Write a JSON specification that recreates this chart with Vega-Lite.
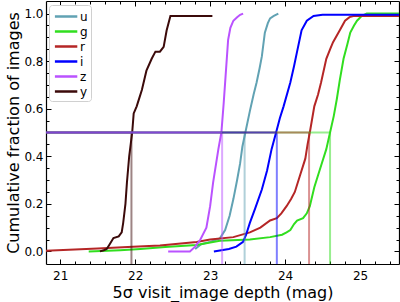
{
  "$schema": "https://vega.github.io/schema/vega-lite/v6.json",
  "width": 353,
  "height": 263,
  "autosize": "none",
  "padding": {"left": 46, "top": 1, "right": 1, "bottom": 38},
  "background": "white",
  "config": {
    "view": {"stroke": null},
    "font": "DejaVu Sans",
    "axis": {
      "labelFont": "DejaVu Sans",
      "labelFontSize": 12,
      "labelColor": "black",
      "titleFont": "DejaVu Sans",
      "titleFontSize": 16,
      "titleFontWeight": "normal",
      "titleColor": "black",
      "domainColor": "black",
      "domainWidth": 1.2,
      "tickColor": "black",
      "tickWidth": 1,
      "grid": false
    },
    "legend": {
      "labelFont": "DejaVu Sans",
      "labelFontSize": 12,
      "labelColor": "black"
    }
  },
  "datasets": {
    "curves": [
      {"band": "u", "mag": 22.8, "frac": 0.01},
      {"band": "u", "mag": 22.88, "frac": 0.03},
      {"band": "u", "mag": 23.0, "frac": 0.04},
      {"band": "u", "mag": 23.13, "frac": 0.055},
      {"band": "u", "mag": 23.2, "frac": 0.09},
      {"band": "u", "mag": 23.26, "frac": 0.15},
      {"band": "u", "mag": 23.31, "frac": 0.22},
      {"band": "u", "mag": 23.36, "frac": 0.3},
      {"band": "u", "mag": 23.4, "frac": 0.37},
      {"band": "u", "mag": 23.43, "frac": 0.44},
      {"band": "u", "mag": 23.47, "frac": 0.5},
      {"band": "u", "mag": 23.53, "frac": 0.59},
      {"band": "u", "mag": 23.58, "frac": 0.66},
      {"band": "u", "mag": 23.62, "frac": 0.71},
      {"band": "u", "mag": 23.66, "frac": 0.77},
      {"band": "u", "mag": 23.69, "frac": 0.82},
      {"band": "u", "mag": 23.73, "frac": 0.92},
      {"band": "u", "mag": 23.77, "frac": 0.96},
      {"band": "u", "mag": 23.8, "frac": 0.98},
      {"band": "u", "mag": 23.85, "frac": 0.99},
      {"band": "u", "mag": 23.91, "frac": 1.0},

      {"band": "g", "mag": 21.38, "frac": 0.0},
      {"band": "g", "mag": 21.8, "frac": 0.005},
      {"band": "g", "mag": 22.07, "frac": 0.01},
      {"band": "g", "mag": 22.4, "frac": 0.018},
      {"band": "g", "mag": 22.82, "frac": 0.027},
      {"band": "g", "mag": 23.13, "frac": 0.045},
      {"band": "g", "mag": 23.53, "frac": 0.05},
      {"band": "g", "mag": 23.8, "frac": 0.06},
      {"band": "g", "mag": 23.96, "frac": 0.07},
      {"band": "g", "mag": 24.02, "frac": 0.08},
      {"band": "g", "mag": 24.07, "frac": 0.09},
      {"band": "g", "mag": 24.12, "frac": 0.115},
      {"band": "g", "mag": 24.16, "frac": 0.13},
      {"band": "g", "mag": 24.24, "frac": 0.14},
      {"band": "g", "mag": 24.29, "frac": 0.16},
      {"band": "g", "mag": 24.33, "frac": 0.19},
      {"band": "g", "mag": 24.39, "frac": 0.27},
      {"band": "g", "mag": 24.44, "frac": 0.32},
      {"band": "g", "mag": 24.48, "frac": 0.36},
      {"band": "g", "mag": 24.55, "frac": 0.43},
      {"band": "g", "mag": 24.6, "frac": 0.5},
      {"band": "g", "mag": 24.65, "frac": 0.57},
      {"band": "g", "mag": 24.69, "frac": 0.64},
      {"band": "g", "mag": 24.73, "frac": 0.72},
      {"band": "g", "mag": 24.78, "frac": 0.81},
      {"band": "g", "mag": 24.83, "frac": 0.87},
      {"band": "g", "mag": 24.87, "frac": 0.92},
      {"band": "g", "mag": 24.92, "frac": 0.95},
      {"band": "g", "mag": 24.96, "frac": 0.97},
      {"band": "g", "mag": 25.02, "frac": 0.99},
      {"band": "g", "mag": 25.09, "frac": 1.0},
      {"band": "g", "mag": 25.52, "frac": 1.0},

      {"band": "r", "mag": 20.81, "frac": 0.003},
      {"band": "r", "mag": 21.5, "frac": 0.012},
      {"band": "r", "mag": 21.97, "frac": 0.02},
      {"band": "r", "mag": 22.33, "frac": 0.025},
      {"band": "r", "mag": 22.82, "frac": 0.04},
      {"band": "r", "mag": 23.0, "frac": 0.05},
      {"band": "r", "mag": 23.31, "frac": 0.06},
      {"band": "r", "mag": 23.53, "frac": 0.08},
      {"band": "r", "mag": 23.67, "frac": 0.1},
      {"band": "r", "mag": 23.8, "frac": 0.13},
      {"band": "r", "mag": 23.89, "frac": 0.14},
      {"band": "r", "mag": 23.95, "frac": 0.16},
      {"band": "r", "mag": 24.02, "frac": 0.19},
      {"band": "r", "mag": 24.08, "frac": 0.22},
      {"band": "r", "mag": 24.13, "frac": 0.25},
      {"band": "r", "mag": 24.2, "frac": 0.32},
      {"band": "r", "mag": 24.27, "frac": 0.39},
      {"band": "r", "mag": 24.3, "frac": 0.45},
      {"band": "r", "mag": 24.33, "frac": 0.5},
      {"band": "r", "mag": 24.39, "frac": 0.61},
      {"band": "r", "mag": 24.44, "frac": 0.66},
      {"band": "r", "mag": 24.48, "frac": 0.71},
      {"band": "r", "mag": 24.55, "frac": 0.81},
      {"band": "r", "mag": 24.6, "frac": 0.85},
      {"band": "r", "mag": 24.64, "frac": 0.88},
      {"band": "r", "mag": 24.73, "frac": 0.93},
      {"band": "r", "mag": 24.8, "frac": 0.97},
      {"band": "r", "mag": 24.86, "frac": 0.985},
      {"band": "r", "mag": 24.91, "frac": 0.99},
      {"band": "r", "mag": 25.52, "frac": 0.99},

      {"band": "i", "mag": 23.05, "frac": 0.0},
      {"band": "i", "mag": 23.25, "frac": 0.01},
      {"band": "i", "mag": 23.35, "frac": 0.02},
      {"band": "i", "mag": 23.44, "frac": 0.04},
      {"band": "i", "mag": 23.48, "frac": 0.07},
      {"band": "i", "mag": 23.53, "frac": 0.12},
      {"band": "i", "mag": 23.6, "frac": 0.18},
      {"band": "i", "mag": 23.69, "frac": 0.26},
      {"band": "i", "mag": 23.76, "frac": 0.34},
      {"band": "i", "mag": 23.82, "frac": 0.43},
      {"band": "i", "mag": 23.88, "frac": 0.5},
      {"band": "i", "mag": 23.93, "frac": 0.56},
      {"band": "i", "mag": 23.98, "frac": 0.61},
      {"band": "i", "mag": 24.07, "frac": 0.71},
      {"band": "i", "mag": 24.12, "frac": 0.78},
      {"band": "i", "mag": 24.16, "frac": 0.84},
      {"band": "i", "mag": 24.22, "frac": 0.93},
      {"band": "i", "mag": 24.29, "frac": 0.97},
      {"band": "i", "mag": 24.38, "frac": 0.99},
      {"band": "i", "mag": 24.5, "frac": 0.995},
      {"band": "i", "mag": 25.52, "frac": 0.995},

      {"band": "z", "mag": 22.44, "frac": 0.0},
      {"band": "z", "mag": 22.73, "frac": 0.0},
      {"band": "z", "mag": 22.8, "frac": 0.02},
      {"band": "z", "mag": 22.87, "frac": 0.05},
      {"band": "z", "mag": 22.95, "frac": 0.1},
      {"band": "z", "mag": 23.0, "frac": 0.19},
      {"band": "z", "mag": 23.04, "frac": 0.29},
      {"band": "z", "mag": 23.08, "frac": 0.37},
      {"band": "z", "mag": 23.11, "frac": 0.43},
      {"band": "z", "mag": 23.15, "frac": 0.5},
      {"band": "z", "mag": 23.18, "frac": 0.62},
      {"band": "z", "mag": 23.2, "frac": 0.71},
      {"band": "z", "mag": 23.24, "frac": 0.89},
      {"band": "z", "mag": 23.27, "frac": 0.94},
      {"band": "z", "mag": 23.31, "frac": 0.97},
      {"band": "z", "mag": 23.36, "frac": 0.985},
      {"band": "z", "mag": 23.4, "frac": 0.995},
      {"band": "z", "mag": 23.44, "frac": 1.0},

      {"band": "y", "mag": 21.53, "frac": 0.0},
      {"band": "y", "mag": 21.58, "frac": 0.005},
      {"band": "y", "mag": 21.62, "frac": 0.01},
      {"band": "y", "mag": 21.66, "frac": 0.03},
      {"band": "y", "mag": 21.71, "frac": 0.056},
      {"band": "y", "mag": 21.78, "frac": 0.063},
      {"band": "y", "mag": 21.82, "frac": 0.08},
      {"band": "y", "mag": 21.84, "frac": 0.12},
      {"band": "y", "mag": 21.87, "frac": 0.2},
      {"band": "y", "mag": 21.89, "frac": 0.29},
      {"band": "y", "mag": 21.92, "frac": 0.4},
      {"band": "y", "mag": 21.94, "frac": 0.45},
      {"band": "y", "mag": 21.96, "frac": 0.5},
      {"band": "y", "mag": 21.98, "frac": 0.58},
      {"band": "y", "mag": 22.02, "frac": 0.61},
      {"band": "y", "mag": 22.06, "frac": 0.65},
      {"band": "y", "mag": 22.09, "frac": 0.68},
      {"band": "y", "mag": 22.15, "frac": 0.76},
      {"band": "y", "mag": 22.22, "frac": 0.81},
      {"band": "y", "mag": 22.27, "frac": 0.84},
      {"band": "y", "mag": 22.33, "frac": 0.84},
      {"band": "y", "mag": 22.38, "frac": 0.86},
      {"band": "y", "mag": 22.42, "frac": 0.93},
      {"band": "y", "mag": 22.47, "frac": 0.99},
      {"band": "y", "mag": 23.03, "frac": 0.99}
    ],
    "medians": [
      {"band": "y", "median": 21.95},
      {"band": "u", "median": 23.46},
      {"band": "g", "median": 24.6},
      {"band": "r", "median": 24.32},
      {"band": "i", "median": 23.89},
      {"band": "z", "median": 23.16}
    ]
  },
  "resolve": {"axis": {"x": "independent", "y": "independent"}},
  "layer": [
    {
      "data": {"name": "curves"},
      "mark": {"type": "line", "strokeWidth": 2, "clip": true},
      "encoding": {
        "x": {
          "field": "mag", "type": "quantitative",
          "scale": {"domain": [20.81, 25.52], "nice": false, "zero": false},
          "axis": {
            "orient": "bottom", "title": "5σ visit_image depth (mag)",
            "values": [21, 22, 23, 24, 25], "format": "d",
            "tickSize": -5, "labelPadding": 11, "titlePadding": 3
          }
        },
        "y": {
          "field": "frac", "type": "quantitative",
          "scale": {"domain": [-0.053, 1.053], "nice": false, "zero": false},
          "axis": {
            "orient": "left", "title": "Cumulative fraction of images",
            "values": [0, 0.2, 0.4, 0.6, 0.8, 1.0], "format": ".1f",
            "tickSize": -5, "labelPadding": 8, "titlePadding": 2
          }
        },
        "color": {
          "field": "band", "type": "nominal",
          "scale": {
            "domain": ["u", "g", "r", "i", "z", "y"],
            "range": ["#61A2B3", "#31DE1F", "#B52626", "#0000FF", "#BA52FF", "#3B0A0A"]
          },
          "legend": {
            "title": null,
            "orient": "none",
            "legendX": 3,
            "legendY": 4,
            "symbolType": "M-0.8,0H2.4",
            "symbolStrokeWidth": 2.5,
            "symbolOpacity": 1,
            "symbolSize": 196,
            "labelOffset": 11,
            "rowPadding": 0,
            "padding": 3,
            "strokeColor": "#d0d0d0",
            "cornerRadius": 3,
            "fillColor": "white",
            "encode": {"symbols": {"update": {"opacity": {"value": 1}}}}
          }
        }
      }
    },
    {
      "data": {"name": "medians"},
      "mark": {"type": "rule", "strokeWidth": 2, "strokeOpacity": 0.5},
      "encoding": {
        "x": {
          "field": "median", "type": "quantitative",
          "axis": {"orient": "top", "title": null, "labels": false, "domain": true,
                   "values": [21, 22, 23, 24, 25], "tickSize": -5}
        },
        "y": {
          "datum": -0.053, "type": "quantitative",
          "axis": {"orient": "right", "title": null, "labels": false, "domain": true,
                   "values": [0, 0.2, 0.4, 0.6, 0.8, 1.0], "tickSize": -5}
        },
        "y2": {"datum": 0.5},
        "color": {"field": "band", "type": "nominal"}
      }
    },
    {
      "data": {"name": "medians"},
      "mark": {"type": "rule", "strokeWidth": 2, "strokeOpacity": 0.5},
      "encoding": {
        "x": {
          "field": "median", "type": "quantitative",
          "axis": {"orient": "bottom", "title": null, "labels": false, "domain": false,
                   "values": [21.2, 21.4, 21.6, 21.8, 22.2, 22.4, 22.6, 22.8, 23.2, 23.4, 23.6, 23.8, 24.2, 24.4, 24.6, 24.8, 25.2, 25.4],
                   "tickSize": -3}
        },
        "x2": {"datum": 20.81},
        "y": {
          "datum": 0.5, "type": "quantitative",
          "axis": {"orient": "left", "title": null, "labels": false, "domain": false,
                   "values": [0.05, 0.1, 0.15, 0.25, 0.3, 0.35, 0.45, 0.5, 0.55, 0.65, 0.7, 0.75, 0.85, 0.9, 0.95],
                   "tickSize": -3}
        },
        "color": {"field": "band", "type": "nominal"}
      }
    },
    {
      "data": {"name": "curves"},
      "mark": {"type": "line", "opacity": 0},
      "encoding": {
        "x": {
          "field": "mag", "type": "quantitative",
          "axis": {"orient": "top", "title": null, "labels": false, "domain": false,
                   "values": [21.2, 21.4, 21.6, 21.8, 22.2, 22.4, 22.6, 22.8, 23.2, 23.4, 23.6, 23.8, 24.2, 24.4, 24.6, 24.8, 25.2, 25.4],
                   "tickSize": -3}
        },
        "y": {
          "field": "frac", "type": "quantitative",
          "axis": {"orient": "right", "title": null, "labels": false, "domain": false,
                   "values": [0.05, 0.1, 0.15, 0.25, 0.3, 0.35, 0.45, 0.5, 0.55, 0.65, 0.7, 0.75, 0.85, 0.9, 0.95],
                   "tickSize": -3}
        }
      }
    }
  ]
}
